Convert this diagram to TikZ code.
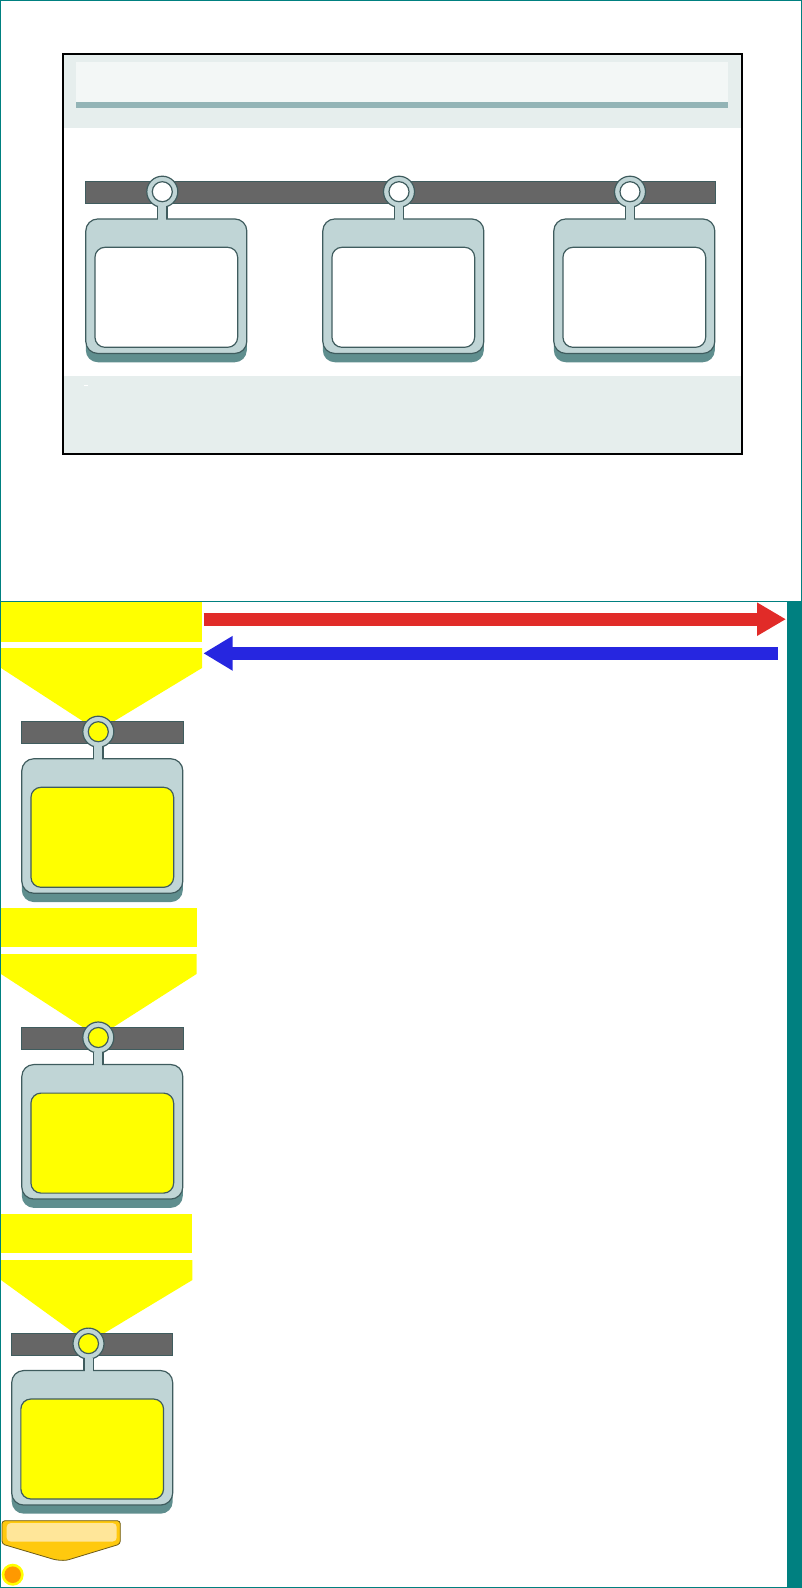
\documentclass[tikz,border=0pt]{standalone}
\usetikzlibrary{arrows.meta}
\definecolor{tealedge}{HTML}{008080}
\definecolor{band}{HTML}{E6EEED}
\definecolor{titlebg}{HTML}{F3F7F6}
\definecolor{stripe}{HTML}{93B4B6}
\definecolor{railgrey}{HTML}{666666}
\definecolor{cardfill}{HTML}{C0D5D6}
\definecolor{cardline}{HTML}{3F5C5E}
\definecolor{cardshade}{HTML}{5F8E8E}
\definecolor{redarrow}{HTML}{E12B28}
\definecolor{bluearrow}{HTML}{2626E0}
\definecolor{lit}{HTML}{FFFF00}
\definecolor{gold}{HTML}{FFC90E}
\definecolor{goldlight}{HTML}{FFE699}
\definecolor{goldline}{HTML}{6B5A1A}
\definecolor{dotorange}{HTML}{FF9900}
\begin{document}
\begin{tikzpicture}[x=1pt,y=-1pt,
  box/.style={inner sep=0pt,outer sep=0pt},
  rail/.style={box,draw=cardline,line width=0.5pt,fill=railgrey,minimum height=22.3pt},
  ring/.style={box,circle,draw=cardline,line width=1.2pt,fill=cardfill,minimum size=31pt},
  hole/.style={box,circle,draw=cardline,line width=1.2pt,fill=white,minimum size=20pt},
  card/.style={box,draw=cardline,line width=1.2pt,fill=cardfill,rounded corners=12pt,minimum width=161pt,minimum height=134.5pt},
  under/.style={box,fill=cardshade,rounded corners=12pt,minimum width=161pt,minimum height=134.5pt},
  pane/.style={box,draw=cardline,line width=1.2pt,fill=white,rounded corners=10pt,minimum width=142.7pt,minimum height=100pt},
  stemout/.style={draw=cardline,line width=10.4pt},
  stemin/.style={draw=cardfill,line width=8pt,shorten <=-1.5pt,shorten >=-1.5pt},
  glow/.style={box,fill=lit,minimum height=40pt},
  push/.style={draw=redarrow,line width=12.8pt,-{Triangle[length=29pt,width=31.4pt]}},
  pull/.style={draw=bluearrow,line width=13.2pt,-{Triangle[length=29.4pt,width=32.7pt]}}]
\useasboundingbox (0,0) rectangle (802,1588);
% upper slide
\node[box,draw=tealedge,line width=1pt,minimum width=801pt,minimum height=601.5pt] (upper) at (401,301) {};
\node[box,fill=band,minimum width=679pt,minimum height=74pt] (headband) at (402.5,91) {};
\node[box,fill=band,minimum width=679pt,minimum height=77pt] (footband) at (402.5,414.7) {};
\node[box,fill=titlebg,minimum width=652pt,minimum height=40pt] (title) at (402,82) {};
\node[box,fill=stripe,minimum width=652pt,minimum height=5.5pt] (stripe1) at (402,105) {};
\node[box,draw=black,line width=1.8pt,minimum width=679pt,minimum height=400pt] (frame) at (402.5,254) {};
\draw[white,line width=0.6pt] (84,385.5) -- (88,385.5);
\node[rail,minimum width=630pt] (rail0) at (400,192) {};
% first row
\node[under] (under1) at (166.3,295) {};
\node[under] (under2) at (403.3,295) {};
\node[under] (under3) at (634.3,295) {};
\node[box,minimum size=1pt] (ringat1) at (162.3,191.7) {};
\node[box,minimum size=1pt] (ringat2) at (399,191.7) {};
\node[box,minimum size=1pt] (ringat3) at (630,191.7) {};
\node[box,minimum size=1pt] (cardat1) at (162.3,219) {};
\node[box,minimum size=1pt] (cardat2) at (399,219) {};
\node[box,minimum size=1pt] (cardat3) at (630,219) {};
\draw[stemout] (ringat1) -- (cardat1);
\draw[stemout] (ringat2) -- (cardat2);
\draw[stemout] (ringat3) -- (cardat3);
\node[ring] (ring1) at (162.3,191.7) {};
\node[ring] (ring2) at (399,191.7) {};
\node[ring] (ring3) at (630,191.7) {};
\node[card] (card1) at (166.3,286.2) {};
\node[card] (card2) at (403.3,286.2) {};
\node[card] (card3) at (634.3,286.2) {};
\draw[stemin] (ring1.south) -- (cardat1);
\draw[stemin] (ring2.south) -- (cardat2);
\draw[stemin] (ring3.south) -- (cardat3);
\node[hole] (hole1) at (162.3,191.7) {};
\node[hole] (hole2) at (399,191.7) {};
\node[hole] (hole3) at (630,191.7) {};
\node[pane] (pane1) at (166.3,297.3) {};
\node[pane] (pane2) at (403.3,297.3) {};
\node[pane] (pane3) at (634.3,297.3) {};
% lower slide
\node[box,draw=tealedge,line width=1pt,minimum width=801pt,minimum height=986pt] (lower) at (401,1094.5) {};
\node[box,fill=tealedge,minimum width=15pt,minimum height=986pt] (sidebar) at (794.5,1095) {};
\node[glow,minimum width=201pt] (glow1) at (101.5,622) {};
\node[glow,minimum width=196.5pt,minimum height=39.4pt] (glow2) at (99.2,927.7) {};
\node[glow,minimum width=191.5pt,minimum height=39.4pt] (glow3) at (96.7,1233.7) {};
\fill[lit] (1,648) -- (202,648) -- (202,668) -- (98,731) -- (1,668) -- cycle;
\fill[lit] (1,954) -- (196.5,954) -- (196.5,974) -- (98,1037) -- (1,974) -- cycle;
\fill[lit] (1,1260) -- (192.4,1260) -- (192.4,1280) -- (88,1343) -- (1,1280) -- cycle;
\coordinate (pushfrom) at (203.5,619.2);
\coordinate (pushto) at (786,619.2);
\coordinate (pullfrom) at (777.7,653.3);
\coordinate (pullto) at (203.3,653.3);
\draw[push] (pushfrom) -- (pushto);
\draw[pull] (pullfrom) -- (pullto);
\node[rail,minimum width=161.5pt] (rail4) at (102,732.5) {};
\node[rail,minimum width=161.5pt] (rail5) at (102,1038.3) {};
\node[rail,minimum width=161.5pt] (rail6) at (91.9,1344.1) {};
\node[under] (under4) at (102.3,834.8) {};
\node[under] (under5) at (102.3,1140.6) {};
\node[under] (under6) at (92.2,1446.4) {};
\node[box,minimum size=1pt] (ringat4) at (98.3,731.7) {};
\node[box,minimum size=1pt] (ringat5) at (98.3,1037.5) {};
\node[box,minimum size=1pt] (ringat6) at (88.5,1343.6) {};
\node[box,minimum size=1pt] (cardat4) at (98.3,758.7) {};
\node[box,minimum size=1pt] (cardat5) at (98.3,1064.5) {};
\node[box,minimum size=1pt] (cardat6) at (88.5,1370.6) {};
\draw[stemout] (ringat4) -- (cardat4);
\draw[stemout] (ringat5) -- (cardat5);
\draw[stemout] (ringat6) -- (cardat6);
\node[ring] (ring4) at (98.3,731.7) {};
\node[ring] (ring5) at (98.3,1037.5) {};
\node[ring] (ring6) at (88.5,1343.6) {};
\node[card] (card4) at (102.3,826) {};
\node[card] (card5) at (102.3,1131.8) {};
\node[card] (card6) at (92.2,1437.8) {};
\draw[stemin] (ring4.south) -- (cardat4);
\draw[stemin] (ring5.south) -- (cardat5);
\draw[stemin] (ring6.south) -- (cardat6);
\node[hole,fill=lit] (hole4) at (98.3,731.7) {};
\node[hole,fill=lit] (hole5) at (98.3,1037.5) {};
\node[hole,fill=lit] (hole6) at (88.5,1343.6) {};
\node[pane,fill=lit] (pane4) at (102.3,837.3) {};
\node[pane,fill=lit] (pane5) at (102.3,1143.1) {};
\node[pane,fill=lit] (pane6) at (92.2,1449) {};
% banner and dot
\draw[goldline,fill=gold,line width=0.8pt,rounded corners=3pt] (2,1520.7) -- (120.3,1520.7) -- (120.3,1544) -- (66,1560.5) -- (56,1560) -- (2,1544) -- cycle;
\node[box,fill=goldlight,rounded corners=4pt,minimum width=110pt,minimum height=18.5pt] (bannerlight) at (61.7,1532.3) {};
\node[box,circle,fill=lit,minimum size=22pt] (dot) at (12.7,1574.7) {};
\node[box,circle,fill=dotorange,minimum size=16.6pt] (dotcore) at (12.7,1574.7) {};
\end{tikzpicture}
\end{document}
